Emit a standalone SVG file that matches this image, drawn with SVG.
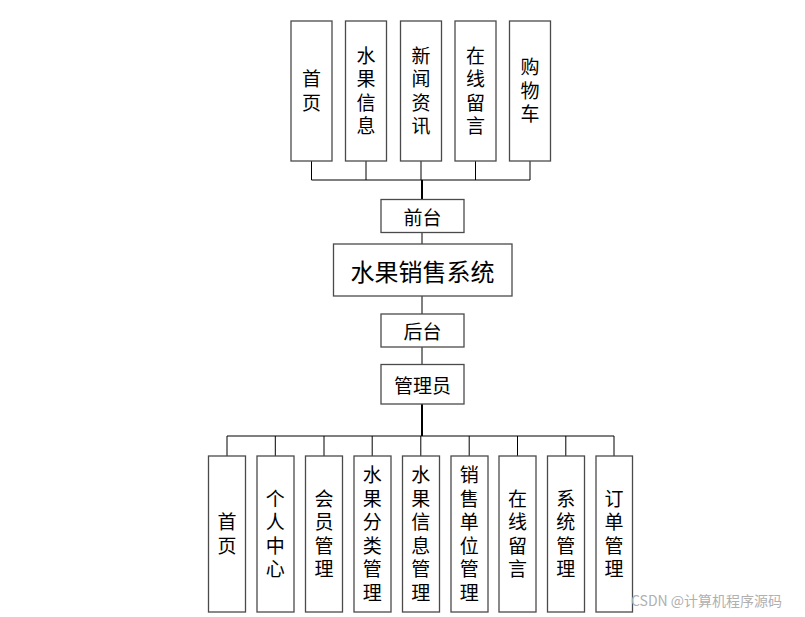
<svg xmlns="http://www.w3.org/2000/svg" width="805" height="617" viewBox="0 0 805 617">
<style>
.box{fill:#fff;stroke:#4a4a4a;stroke-width:1.3}
.ln{stroke:#000;stroke-width:1;fill:none}
.thk{stroke:#000;stroke-width:2;fill:none}
.t{font-family:"Noto Sans CJK SC",sans-serif;font-size:19px;fill:#000;text-anchor:middle;dominant-baseline:central}
.v{font-family:"Noto Sans CJK SC",sans-serif;font-size:19px;fill:#000;text-anchor:middle;writing-mode:vertical-rl;text-orientation:upright;letter-spacing:4.5px}
.wm{font-family:"Noto Sans CJK SC",sans-serif;font-size:14px;fill:#b0b0b0}
</style>
<rect width="805" height="617" fill="#fff"/>
<g id="connectors">
<path class="ln" d="M311.5 161V180M366 161V180M421 161V180M475.5 161V180M530 161V180M311.5 180H530"/>
<path class="thk" d="M422 180V199"/>
<path class="ln" d="M422 233V244M422 296V314M422 347V364"/>
<path class="thk" d="M422 404V436"/>
<path class="ln" d="M227 436H614M227 436V456M275.3 436V456M324 436V456M372.2 436V456M420.8 436V456M469.2 436V456M517.5 436V456M565.8 436V456M614 436V456"/>
</g>
<g id="top-1"><rect class="box" x="291" y="21" width="41" height="140"/><text class="v" x="311.5" y="93">首页</text></g>
<g id="top-2"><rect class="box" x="345.5" y="21" width="41" height="140"/><text class="v" x="366" y="93">水果信息</text></g>
<g id="top-3"><rect class="box" x="400.5" y="21" width="41" height="140"/><text class="v" x="421" y="93">新闻资讯</text></g>
<g id="top-4"><rect class="box" x="455" y="21" width="41" height="140"/><text class="v" x="475.5" y="93">在线留言</text></g>
<g id="top-5"><rect class="box" x="509.5" y="21" width="41" height="140"/><text class="v" x="530" y="93">购物车</text></g>
<g id="qiantai"><rect class="box" x="381" y="199.5" width="83" height="33"/><text class="t" x="422.5" y="216">前台</text></g>
<g id="system"><rect class="box" x="333.5" y="244" width="178.5" height="52"/><text class="t" x="422.5" y="270" style="font-size:24px">水果销售系统</text></g>
<g id="houtai"><rect class="box" x="381" y="314" width="83" height="33"/><text class="t" x="422.5" y="330.5">后台</text></g>
<g id="admin"><rect class="box" x="381" y="364.5" width="83" height="39.5"/><text class="t" x="422.5" y="384">管理员</text></g>
<g id="b-1"><rect class="box" x="208.5" y="456" width="37" height="156"/><text class="v" x="227" y="536">首页</text></g>
<g id="b-2"><rect class="box" x="257" y="456" width="37" height="156"/><text class="v" x="275.3" y="536">个人中心</text></g>
<g id="b-3"><rect class="box" x="305.5" y="456" width="37" height="156"/><text class="v" x="324" y="536">会员管理</text></g>
<g id="b-4"><rect class="box" x="354" y="456" width="37" height="156"/><text class="v" x="372.2" y="536">水果分类管理</text></g>
<g id="b-5"><rect class="box" x="402.5" y="456" width="37" height="156"/><text class="v" x="420.8" y="536">水果信息管理</text></g>
<g id="b-6"><rect class="box" x="451" y="456" width="37" height="156"/><text class="v" x="469.2" y="536">销售单位管理</text></g>
<g id="b-7"><rect class="box" x="499" y="456" width="37" height="156"/><text class="v" x="517.5" y="536">在线留言</text></g>
<g id="b-8"><rect class="box" x="547.5" y="456" width="37" height="156"/><text class="v" x="565.8" y="536">系统管理</text></g>
<g id="b-9"><rect class="box" x="596" y="456" width="36.5" height="156"/><text class="v" x="614" y="536">订单管理</text></g>
<text class="wm" x="631" y="606">CSDN @计算机程序源码</text>
</svg>
